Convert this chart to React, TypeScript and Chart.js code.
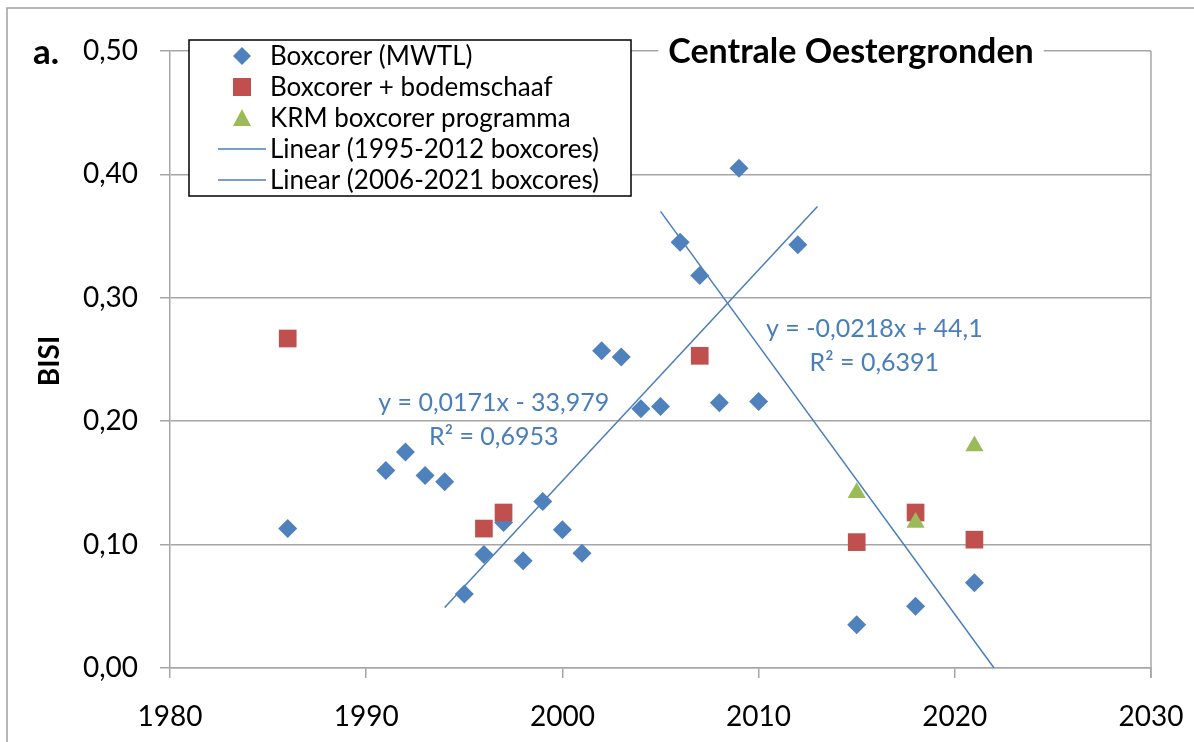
import React, { useEffect, useRef } from "react";
import { Chart, registerables } from "chart.js";

Chart.register(...registerables);

const mwtlYears = [1986, 1991, 1992, 1993, 1994, 1995, 1996, 1997, 1998, 1999, 2000, 2001, 2002, 2003, 2004, 2005, 2006, 2007, 2008, 2009, 2010, 2012, 2015, 2018, 2021];
const mwtlValues = [0.113, 0.160, 0.175, 0.156, 0.151, 0.060, 0.092, 0.118, 0.087, 0.135, 0.112, 0.093, 0.257, 0.252, 0.210, 0.212, 0.345, 0.318, 0.215, 0.405, 0.216, 0.343, 0.035, 0.050, 0.069];

const schaafYears = [1986, 1996, 1997, 2007, 2015, 2018, 2021];
const schaafValues = [0.267, 0.113, 0.126, 0.253, 0.102, 0.126, 0.104];

const krmYears = [2015, 2018, 2021];
const krmValues = [0.142, 0.118, 0.180];

const trend1Years = [1994, 2013];
const trend1Values = [0.049, 0.374];
const trend2Years = [2005, 2022];
const trend2Values = [0.370, 0.0];

const seriesLabels = [
  "Boxcorer (MWTL)",
  "Boxcorer + bodemschaaf",
  "KRM boxcorer programma",
  "Linear (1995-2012 boxcores)",
  "Linear (2006-2021 boxcores)",
];

const chartTitle = "Centrale Oestergronden";
const panelLabel = "a.";
const yAxisTitle = "BISI";
const trend1Text = ["y = 0,0171x - 33,979", "R² = 0,6953"];
const trend2Text = ["y = -0,0218x + 44,1", "R² = 0,6391"];

const BLUE = "#4f81bd";
const RED = "#c0504d";
const GREEN = "#9bbb59";
const LINE = "#4a7ebb";
const GRID = "#a6a6a6";
const FONT = "Lato, 'Open Sans', sans-serif";

const toPoints = (xs: number[], ys: number[]) => xs.map((x, i) => ({ x, y: ys[i] }));

const decorPlugin = {
  id: "decor",
  beforeDraw(chart: any) {
    const ctx = chart.ctx;
    ctx.save();
    ctx.fillStyle = "#ffffff";
    ctx.fillRect(0, 0, chart.width, chart.height);
    ctx.strokeStyle = "#a0a0a0";
    ctx.lineWidth = 1.5;
    ctx.strokeRect(7, 8, chart.width + 50, chart.height + 50);
    ctx.restore();
  },
  afterDraw(chart: any) {
    const ctx = chart.ctx;
    const area = chart.chartArea;
    const xs = chart.scales.x;
    const ys = chart.scales.y;
    ctx.save();
    // right border of plot area
    ctx.strokeStyle = GRID;
    ctx.lineWidth = 1.5;
    ctx.beginPath();
    ctx.moveTo(area.right, area.top);
    ctx.lineTo(area.right, area.bottom + 10);
    ctx.stroke();

    // panel label
    ctx.fillStyle = "#000";
    ctx.font = `bold 35px ${FONT}`;
    ctx.textAlign = "left";
    ctx.textBaseline = "middle";
    ctx.fillText(panelLabel, 33, 53);

    // y axis title
    ctx.save();
    ctx.translate(50, 361);
    ctx.rotate(-Math.PI / 2);
    ctx.font = `bold 28px ${FONT}`;
    ctx.textAlign = "center";
    ctx.textBaseline = "middle";
    ctx.fillText(yAxisTitle, 0, 0);
    ctx.restore();

    // chart title with white backing
    ctx.font = `bold 34px ${FONT}`;
    const tw = ctx.measureText(chartTitle).width;
    const tcx = 851;
    ctx.fillStyle = "#fff";
    ctx.fillRect(tcx - tw / 2 - 10, area.top - 20, tw + 20, 40);
    ctx.fillStyle = "#000";
    ctx.textAlign = "center";
    ctx.textBaseline = "middle";
    ctx.fillText(chartTitle, tcx, area.top + 1);

    // trend equations
    ctx.fillStyle = LINE;
    ctx.font = `25px ${FONT}`;
    ctx.fillText(trend1Text[0], xs.getPixelForValue(1996.5), ys.getPixelForValue(0.215));
    ctx.fillText(trend1Text[1], xs.getPixelForValue(1996.5), ys.getPixelForValue(0.187));
    ctx.fillText(trend2Text[0], xs.getPixelForValue(2015.9), ys.getPixelForValue(0.275));
    ctx.fillText(trend2Text[1], xs.getPixelForValue(2015.9), ys.getPixelForValue(0.247));

    // legend box
    const lx = 189, ly = 40, lw = 442, lh = 156;
    ctx.fillStyle = "#fff";
    ctx.fillRect(lx, ly, lw, lh);
    ctx.strokeStyle = "#000";
    ctx.lineWidth = 1.5;
    ctx.strokeRect(lx, ly, lw, lh);
    const rowY = [56, 87, 118, 149, 180];
    const mx = 242;
    ctx.font = `26px ${FONT}`;
    ctx.textAlign = "left";
    ctx.textBaseline = "middle";
    seriesLabels.forEach((label, i) => {
      const y = rowY[i];
      if (i === 0) {
        ctx.fillStyle = BLUE;
        ctx.beginPath();
        ctx.moveTo(mx - 9, y);
        ctx.lineTo(mx, y - 9);
        ctx.lineTo(mx + 9, y);
        ctx.lineTo(mx, y + 9);
        ctx.closePath();
        ctx.fill();
      } else if (i === 1) {
        ctx.fillStyle = RED;
        ctx.fillRect(mx - 9, y - 9, 18, 18);
      } else if (i === 2) {
        ctx.fillStyle = GREEN;
        ctx.beginPath();
        ctx.moveTo(mx, y - 9);
        ctx.lineTo(mx + 9, y + 8);
        ctx.lineTo(mx - 9, y + 8);
        ctx.closePath();
        ctx.fill();
      } else {
        ctx.strokeStyle = LINE;
        ctx.lineWidth = 1.5;
        ctx.beginPath();
        ctx.moveTo(218, y);
        ctx.lineTo(266, y);
        ctx.stroke();
      }
      ctx.fillStyle = "#000";
      ctx.fillText(label, 270, y + 1);
    });
    ctx.restore();
  },
};

export default function App() {
  const ref = useRef<HTMLCanvasElement | null>(null);
  useEffect(() => {
    if (!ref.current) return;
    const chart = new Chart(ref.current, {
      type: "scatter",
      data: {
        datasets: [
          {
            label: seriesLabels[3],
            data: toPoints(trend1Years, trend1Values),
            showLine: true,
            borderColor: LINE,
            borderWidth: 1.5,
            pointRadius: 0,
            order: 5,
          },
          {
            label: seriesLabels[4],
            data: toPoints(trend2Years, trend2Values),
            showLine: true,
            borderColor: LINE,
            borderWidth: 1.5,
            pointRadius: 0,
            order: 4,
          },
          {
            label: seriesLabels[0],
            data: toPoints(mwtlYears, mwtlValues),
            pointStyle: "rectRot",
            pointRadius: 9.5,
            backgroundColor: BLUE,
            borderColor: BLUE,
            borderWidth: 0,
            order: 3,
          },
          {
            label: seriesLabels[1],
            data: toPoints(schaafYears, schaafValues),
            pointStyle: "rect",
            pointRadius: 12.5,
            backgroundColor: RED,
            borderColor: RED,
            borderWidth: 0,
            order: 2,
          },
          {
            label: seriesLabels[2],
            data: toPoints(krmYears, krmValues),
            pointStyle: "triangle",
            pointRadius: 10.5,
            backgroundColor: GREEN,
            borderColor: GREEN,
            borderWidth: 0,
            order: 1,
          },
        ],
      },
      options: {
        responsive: false,
        animation: false,
        devicePixelRatio: 1,
        layout: { padding: { left: 0, top: 51, right: 43, bottom: 0 } },
        plugins: { legend: { display: false }, tooltip: { enabled: false }, title: { display: false } },
        scales: {
          x: {
            type: "linear",
            min: 1980,
            max: 2030,
            afterFit: (s: any) => {
              s.height = 74;
              s.paddingLeft = 0;
              s.paddingRight = 0;
            },
            ticks: {
              stepSize: 10,
              padding: 22,
              color: "#000",
              font: { family: FONT, size: 28 },
              callback: (v: any) => String(v),
            },
            grid: { drawOnChartArea: false, drawTicks: true, tickLength: 10, color: GRID, lineWidth: 1.5 },
            border: { display: true, color: GRID, width: 1.5 },
          },
          y: {
            type: "linear",
            min: 0,
            max: 0.5,
            afterFit: (s: any) => {
              s.width = 170;
              s.paddingTop = 0;
              s.paddingBottom = 0;
            },
            ticks: {
              stepSize: 0.1,
              padding: 22,
              color: "#000",
              font: { family: FONT, size: 28 },
              callback: (v: any) => Number(v).toFixed(2).replace(".", ","),
            },
            grid: { drawTicks: true, tickLength: 10, color: GRID, lineWidth: 1.5 },
            border: { display: true, color: GRID, width: 1.5 },
          },
        },
      },
      plugins: [decorPlugin],
    } as any);
    return () => chart.destroy();
  }, []);
  return (
    <div style={{ position: "absolute", left: 0, top: 0, width: 1194, height: 742, background: "#fff" }}>
      <canvas ref={ref} width={1194} height={742} style={{ display: "block" }} />
    </div>
  );
}
